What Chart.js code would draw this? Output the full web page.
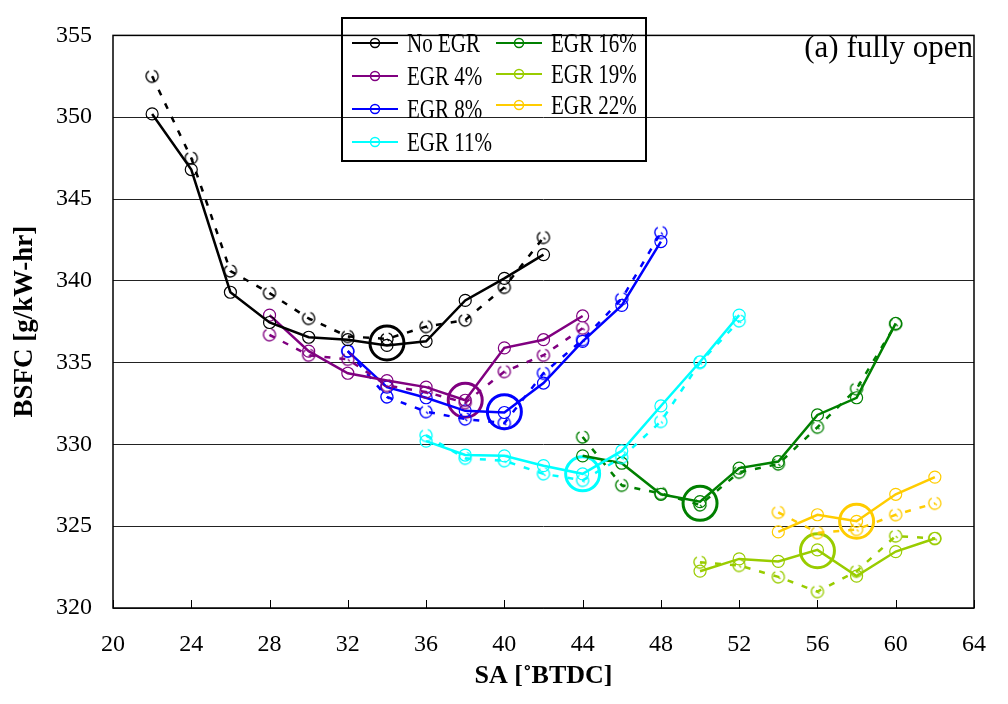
<!DOCTYPE html>
<html>
<head>
<meta charset="utf-8">
<script src="https://cdn.jsdelivr.net/npm/chart.js@4.4.1/dist/chart.umd.min.js"></script>
<style>
html, body { margin: 0; padding: 0; background: #fff; }
</style>
</head>
<body>
<canvas id="chart" width="1008" height="704"></canvas>
<script>
// spark advance (x) and BSFC values, solid = first run, dashed = repeat run
const saNoEgr = [22, 24, 26, 28, 30, 32, 34, 36, 38, 40, 42];
const noEgrSolid = [350.2, 346.8, 339.3, 337.45, 336.55, 336.4, 336.05, 336.3, 338.8, 340.15, 341.6];
const noEgrDash = [352.5, 347.5, 340.6, 339.25, 337.7, 336.6, 336.45, 337.2, 337.6, 339.6, 342.65];

const saEgr4 = [28, 30, 32, 34, 36, 38, 40, 42, 44];
const egr4Solid = [337.9, 335.7, 334.35, 333.9, 333.5, 332.7, 335.9, 336.4, 337.85];
const egr4Dash = [336.7, 335.45, 335.2, 333.6, 333.2, 332.55, 334.45, 335.45, 337.1];

const saEgr8 = [32, 34, 36, 38, 40, 42, 44, 46, 48];
const egr8Solid = [335.7, 333.5, 332.85, 332.05, 331.95, 333.75, 336.3, 338.5, 342.4];
const egr8Dash = [335.7, 332.9, 332.0, 331.55, 331.3, 334.35, 336.4, 338.9, 342.95];

const saEgr11 = [36, 38, 40, 42, 44, 46, 48, 50, 52];
const egr11Solid = [330.2, 329.35, 329.3, 328.7, 328.2, 329.6, 332.35, 335.05, 337.9];
const egr11Dash = [330.55, 329.15, 329.0, 328.2, 327.8, 329.2, 331.4, 335.0, 337.55];

const saEgr16 = [44, 46, 48, 50, 52, 54, 56, 58, 60];
const egr16Solid = [329.3, 328.85, 326.95, 326.5, 328.55, 328.95, 331.8, 332.85, 337.4];
const egr16Dash = [330.45, 327.5, 327.0, 326.3, 328.3, 328.8, 331.05, 333.4, 337.35];

const saEgr19 = [50, 52, 54, 56, 58, 60, 62];
const egr19Solid = [322.25, 323.0, 322.85, 323.55, 321.95, 323.45, 324.25];
const egr19Dash = [322.8, 322.6, 321.9, 321.0, 322.25, 324.4, 324.25];

const saEgr22 = [54, 56, 58, 60, 62];
const egr22Solid = [324.65, 325.7, 325.3, 326.95, 328.0];
const egr22Dash = [325.85, 324.6, 324.8, 325.7, 326.4];

// minimum BSFC points marked with big circles
const optSa = [34, 38, 40, 44, 50, 56, 58];
const optBsfc = [336.2, 332.7, 332.0, 328.2, 326.4, 323.5, 325.3];

const seriesNames = ['No EGR', 'EGR 4%', 'EGR 8%', 'EGR 11%', 'EGR 16%', 'EGR 19%', 'EGR 22%'];
const seriesColors = ['#000000', '#800080', '#0000ff', '#00ffff', '#008000', '#99cc00', '#ffcc00'];
const seriesSa = [saNoEgr, saEgr4, saEgr8, saEgr11, saEgr16, saEgr19, saEgr22];
const seriesSolid = [noEgrSolid, egr4Solid, egr8Solid, egr11Solid, egr16Solid, egr19Solid, egr22Solid];
const seriesDash = [noEgrDash, egr4Dash, egr8Dash, egr11Dash, egr16Dash, egr19Dash, egr22Dash];

const xTicks = [20, 24, 28, 32, 36, 40, 44, 48, 52, 56, 60, 64];
const yTicks = [320, 325, 330, 335, 340, 345, 350, 355];

Chart.defaults.font.family = '"Liberation Serif", "Times New Roman", serif';
Chart.defaults.color = '#000';

function pts(xs, ys) {
    return xs.map((x, i) => ({ x: x, y: ys[i] }));
}

// marker for the repeat runs: circle stroked with the dash pattern, like the original
function dashedMarker(color) {
    const cv = document.createElement('canvas');
    cv.width = 16; cv.height = 16;
    const g = cv.getContext('2d');
    g.strokeStyle = color;
    g.lineWidth = 1.3;
    g.setLineDash([26, 5]);
    g.beginPath();
    g.arc(8, 8, 6, -0.3, Math.PI * 2 - 0.3);
    g.stroke();
    g.setLineDash([]);
    g.beginPath();
    g.moveTo(8, 8);
    g.lineTo(10, 10);
    g.stroke();
    return cv;
}

const datasets = [];
seriesNames.forEach((name, i) => {
    datasets.push({
        label: name,
        data: pts(seriesSa[i], seriesSolid[i]),
        borderColor: seriesColors[i],
        borderWidth: 2.5,
        pointRadius: 6,
        pointBorderWidth: 1.2,
        pointBorderColor: seriesColors[i],
        pointBackgroundColor: 'rgba(0,0,0,0)',
        tension: 0
    });
    datasets.push({
        label: name + ' (repeat)',
        data: pts(seriesSa[i], seriesDash[i]),
        borderColor: seriesColors[i],
        borderWidth: 2.5,
        borderDash: [6, 9],
        pointStyle: dashedMarker(seriesColors[i]),
        pointRadius: 6,
        tension: 0
    });
});
datasets.push({
    label: 'optimum',
    data: pts(optSa, optBsfc),
    showLine: false,
    pointRadius: 17,
    pointBorderWidth: 3,
    pointBorderColor: seriesColors,
    pointBackgroundColor: 'rgba(0,0,0,0)'
});

// frame, inner x ticks, label text and the boxed two-column legend
const decor = {
    id: 'decor',
    afterDatasetsDraw(chart) {
        const c = chart.ctx;
        const a = chart.chartArea;
        const xs = chart.scales.x;
        c.save();
        c.strokeStyle = '#000';
        c.lineWidth = 1.5;
        c.strokeRect(a.left, a.top, a.right - a.left, a.bottom - a.top);
        c.lineWidth = 1;
        xTicks.forEach(v => {
            const px = Math.round(xs.getPixelForValue(v)) + 0.5;
            c.beginPath();
            c.moveTo(px, a.bottom);
            c.lineTo(px, a.bottom - 8);
            c.stroke();
        });

        c.fillStyle = '#000';
        c.font = '31px "Liberation Serif"';
        c.textAlign = 'right';
        c.textBaseline = 'alphabetic';
        c.fillText('(a) fully open', 973, 57);

        // legend box
        c.lineWidth = 2;
        c.strokeRect(342, 18, 304, 143);
        const rows = [[0, 43], [0, 76], [0, 109], [0, 142], [1, 43], [1, 74], [1, 105]];
        const cols = [352, 496];
        seriesNames.forEach((name, i) => {
            const x0 = cols[rows[i][0]];
            const y0 = rows[i][1];
            c.strokeStyle = seriesColors[i];
            c.lineWidth = 2;
            c.beginPath();
            c.moveTo(x0, y0);
            c.lineTo(x0 + 46, y0);
            c.stroke();
            c.lineWidth = 1.5;
            c.beginPath();
            c.arc(x0 + 23, y0, 4.5, 0, Math.PI * 2);
            c.stroke();
            c.save();
            c.translate(x0 + 55, y0 + 9);
            c.scale(0.75, 1);
            c.fillStyle = '#000';
            c.font = '28px "Liberation Serif"';
            c.textAlign = 'left';
            c.fillText(name, 0, 0);
            c.restore();
        });
        c.restore();
    }
};

new Chart(document.getElementById('chart'), {
    type: 'line',
    data: { datasets: datasets },
    options: {
        responsive: false,
        animation: false,
        events: [],
        layout: { padding: { left: 0, right: 20, top: 18, bottom: 0 } },
        plugins: { legend: { display: false }, tooltip: { enabled: false } },
        scales: {
            x: {
                type: 'linear',
                min: 20, max: 64,
                afterBuildTicks: s => { s.ticks = xTicks.map(v => ({ value: v })); },
                afterFit: s => { s.height = 96; },
                grid: { display: false, drawTicks: false },
                border: { display: false },
                ticks: { font: { size: 24 }, padding: 22, maxRotation: 0 },
                title: {
                    display: true,
                    text: 'SA [˚BTDC]',
                    font: { size: 26, weight: 'bold' },
                    padding: { top: 0, bottom: 12 }
                }
            },
            y: {
                min: 320, max: 355,
                afterBuildTicks: s => { s.ticks = yTicks.map(v => ({ value: v })); },
                afterFit: s => { s.width = 113; },
                grid: { color: '#222', lineWidth: 1, drawTicks: false },
                border: { display: false },
                ticks: { font: { size: 24 }, padding: 21 },
                title: {
                    display: true,
                    text: 'BSFC [g/kW-hr]',
                    font: { size: 27, weight: 'bold' },
                    padding: { top: 9, bottom: 0 }
                }
            }
        }
    },
    plugins: [decor]
});
</script>
</body>
</html>
